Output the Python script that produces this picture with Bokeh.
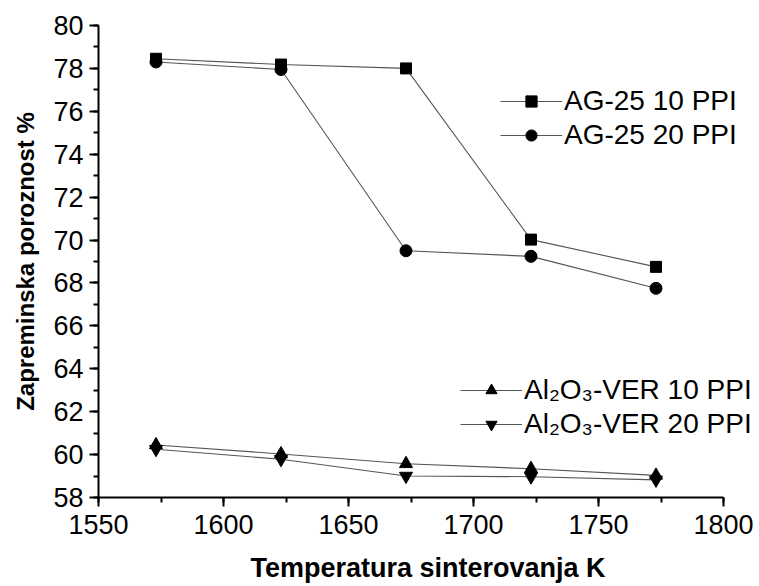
from bokeh.plotting import figure
from bokeh.models import Legend, LegendItem, SingleIntervalTicker, Range1d
from bokeh.embed import file_html
from bokeh.resources import INLINE

temps = [1573, 1623, 1673, 1723, 1773]
ag25_10 = [78.45, 78.18, 78.0, 70.02, 68.75]
ag25_20 = [78.3, 77.95, 69.5, 69.24, 67.75]
al_10 = [60.45, 60.03, 59.57, 59.34, 59.03]
al_20 = [60.25, 59.78, 59.0, 58.97, 58.82]

x_ticks_start, x_ticks_end = 1550, 1800
label_ag10 = "AG-25 10 PPI"
label_ag20 = "AG-25 20 PPI"
label_al10 = "Al₂O₃-VER 10 PPI"
label_al20 = "Al₂O₃-VER 20 PPI"

FONT = "Liberation Sans"

p = figure(width=759, height=586, output_backend="svg", toolbar_location=None,
           x_range=Range1d(1550, 1813.6), y_range=Range1d(58, 80),
           min_border_left=98, min_border_right=2, min_border_top=25, min_border_bottom=89)
p.outline_line_color = None
p.grid.visible = False
p.background_fill_color = "white"
p.border_fill_color = "white"

LINE = "#555555"
lines = []
for ys, marker, size in [(ag25_10, "square", 11), (ag25_20, "circle", 12),
                         (al_10, "triangle", 13), (al_20, "inverted_triangle", 13)]:
    l = p.line(temps, ys, line_color=LINE, line_width=1.1)
    m = p.scatter(temps, ys, marker=marker, size=size, fill_color="black", line_color="black")
    lines.append((l, m))

p.xaxis.ticker = SingleIntervalTicker(interval=50, num_minor_ticks=2)
p.yaxis.ticker = SingleIntervalTicker(interval=2, num_minor_ticks=2)
p.xaxis.bounds = (x_ticks_start, x_ticks_end)
for ax in (p.xaxis[0], p.yaxis[0]):
    ax.axis_line_width = 2
    ax.axis_line_color = "black"
    ax.major_tick_line_width = 2
    ax.minor_tick_line_width = 2
    ax.major_tick_in = 0
    ax.major_tick_out = 9
    ax.minor_tick_in = 0
    ax.minor_tick_out = 5
    ax.major_label_text_font = FONT
    ax.major_label_text_font_size = "27px"
    ax.major_label_text_color = "black"
    ax.axis_label_text_font = FONT
    ax.axis_label_text_font_style = "bold"
    ax.axis_label_text_color = "black"

p.xaxis.axis_label = "Temperatura sinterovanja K"
p.yaxis.axis_label = "Zapreminska poroznost %"
p.xaxis.axis_label_text_font_size = "27px"
p.yaxis.axis_label_text_font_size = "24px"
p.xaxis.major_label_standoff = 8
p.yaxis.major_label_standoff = 6
p.xaxis.axis_label_standoff = 16
p.yaxis.axis_label_standoff = 11

def make_legend(items, loc):
    lg = Legend(items=items, location=loc, background_fill_alpha=0, border_line_color=None,
                padding=0, margin=0, spacing=2, glyph_width=62, glyph_height=28,
                label_standoff=2, label_text_font=FONT, label_text_font_size="28px",
                label_height=28, label_text_color="black")
    return lg

leg1 = make_legend([LegendItem(label=label_ag10, renderers=list(lines[0])),
                    LegendItem(label=label_ag20, renderers=list(lines[1]))], (402, 346))
leg2 = make_legend([LegendItem(label=label_al10, renderers=list(lines[2])),
                    LegendItem(label=label_al20, renderers=list(lines[3]))], (362, 57))
p.add_layout(leg1, "center")
p.add_layout(leg2, "center")

open("out.html", "w").write(file_html(p, INLINE))
